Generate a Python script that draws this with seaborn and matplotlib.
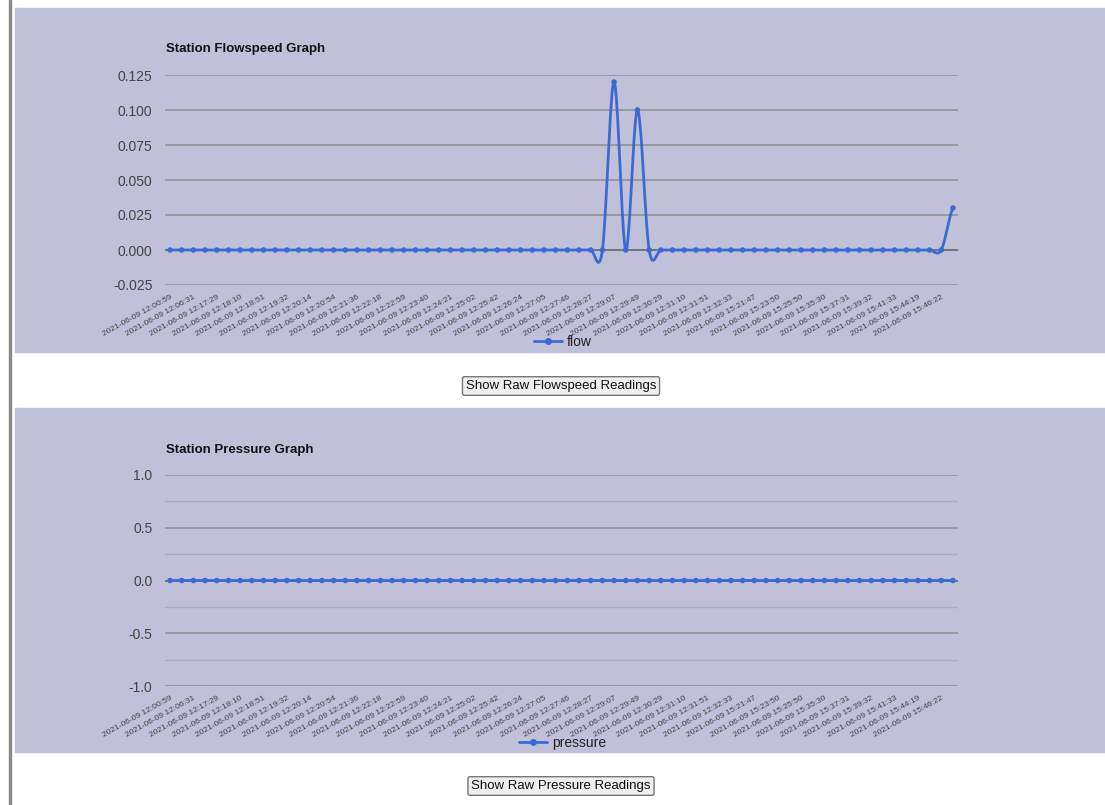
import numpy as np
import matplotlib
matplotlib.use("Agg")
import matplotlib.pyplot as plt
import seaborn as sns
from matplotlib.lines import Line2D
from matplotlib.patches import Rectangle

# readings (68 samples), labels shown on every 2nd sample
flow = [0.0] * 68
flow[38] = 0.12
flow[40] = 0.10
flow[67] = 0.03
pressure = [0.0] * 68

tick_labels = [
    "2021-06-09 12:00:59", "2021-06-09 12:06:31", "2021-06-09 12:17:29", "2021-06-09 12:18:10",
    "2021-06-09 12:18:51", "2021-06-09 12:19:32", "2021-06-09 12:20:14", "2021-06-09 12:20:54",
    "2021-06-09 12:21:36", "2021-06-09 12:22:18", "2021-06-09 12:22:59", "2021-06-09 12:23:40",
    "2021-06-09 12:24:21", "2021-06-09 12:25:02", "2021-06-09 12:25:42", "2021-06-09 12:26:24",
    "2021-06-09 12:27:05", "2021-06-09 12:27:46", "2021-06-09 12:28:27", "2021-06-09 12:29:07",
    "2021-06-09 12:29:49", "2021-06-09 12:30:29", "2021-06-09 12:31:10", "2021-06-09 12:31:51",
    "2021-06-09 12:32:33", "2021-06-09 15:21:47", "2021-06-09 15:23:50", "2021-06-09 15:25:50",
    "2021-06-09 15:35:30", "2021-06-09 15:37:31", "2021-06-09 15:39:32", "2021-06-09 15:41:33",
    "2021-06-09 15:44:19", "2021-06-09 15:46:22",
]

sns.set_style("white")
plt.rcParams['font.family'] = ['Liberation Sans', 'DejaVu Sans']

W, H = 1105, 805
BG = '#c0c0d8'
BLUE = '#3a6bd4'


def catmull(y, n=20):
    # smooth curve through the points (like curveType 'function')
    y = np.asarray(y, dtype=float)
    p = np.concatenate([[y[0]], y, [y[-1]]])
    xs, ys = [], []
    t = np.linspace(0, 1, n, endpoint=False)
    for i in range(len(y) - 1):
        p0, p1, p2, p3 = p[i], p[i + 1], p[i + 2], p[i + 3]
        m1 = (p2 - p0) / 2
        m2 = (p3 - p1) / 2
        h00 = 2 * t**3 - 3 * t**2 + 1
        h10 = t**3 - 2 * t**2 + t
        h01 = -2 * t**3 + 3 * t**2
        h11 = t**3 - t**2
        xs.append(i + t)
        ys.append(h00 * p1 + h10 * m1 + h01 * p2 + h11 * m2)
    xs.append([len(y) - 1])
    ys.append([y[-1]])
    return np.concatenate(xs), np.concatenate(ys)


def px_axes(fig, left, top, right, bottom):
    ax = fig.add_axes([left / W, 1 - bottom / H, (right - left) / W, (bottom - top) / H])
    ax.set_zorder(5)
    return ax


fig = plt.figure(figsize=(W / 100, H / 100), dpi=100)
fig.patch.set_facecolor('white')

# page decorations
fig.patches.append(Rectangle((9 / W, 0), 2 / W, 1, transform=fig.transFigure, color='#8a8a8a', zorder=-2))
for top, bot in [(8, 352), (408, 752)]:
    fig.patches.append(Rectangle((15 / W, 1 - bot / H), (W - 15) / W, (bot - top) / H,
                                 transform=fig.transFigure, color=BG, zorder=-2))


def draw_chart(ax, values, name, title, yticks, ylim, minor, fmt, title_y, legend_y):
    ax.set_facecolor(BG)
    for s in ax.spines.values():
        s.set_visible(False)
    idx = np.arange(len(values))
    for v in minor:
        ax.axhline(v, color='#a9a9c0', lw=1, zorder=1)
    for v in yticks:
        ax.axhline(v, color='#5f5f5f' if v == 0 else '#8e8e8e', lw=1.1, zorder=1)
    xs, ys = catmull(values)
    sns.lineplot(x=xs, y=ys, ax=ax, color=BLUE, lw=2, zorder=3, estimator=None, sort=False)
    sns.scatterplot(x=idx, y=values, ax=ax, color=BLUE, s=16, edgecolor='none', zorder=4)
    ax.set_xlim(-0.43, len(values) - 1 + 0.43)
    ax.set_ylim(*ylim)
    ax.set_yticks(yticks)
    ax.set_yticklabels([fmt.format(v) for v in yticks], fontsize=10, color='#444444')
    ax.tick_params(axis='y', length=0, pad=9)
    ax.set_xticks(idx[::2])
    ax.set_xticklabels(tick_labels, rotation=29, ha='right', rotation_mode='anchor',
                       fontsize=6, color='#444444')
    ax.tick_params(axis='x', length=0, pad=6)
    ax.set_xlabel('')
    ax.set_ylabel('')
    fig.text(166 / W, 1 - (title_y + 1) / H, title, fontsize=9.5, fontweight='bold',
             color='#111111', va='center', ha='left')
    h = Line2D([], [], color=BLUE, lw=2, marker='o', markersize=4)
    fig.legend(handles=[h], labels=[name], loc='center', frameon=False,
               bbox_to_anchor=(563 / W, 1 - legend_y / H), fontsize=10,
               handlelength=2.0, handletextpad=0.4, labelcolor='#222222')


ax1 = px_axes(fig, 165, 75, 958, 285)
draw_chart(ax1, flow, 'flow', 'Station Flowspeed Graph',
           [-0.025, 0.0, 0.025, 0.05, 0.075, 0.1, 0.125], (-0.025, 0.125), [],
           '{:.3f}', 48, 342)

ax2 = px_axes(fig, 165, 475, 958, 686)
draw_chart(ax2, pressure, 'pressure', 'Station Pressure Graph',
           [-1.0, -0.5, 0.0, 0.5, 1.0], (-1.0, 1.0), [-0.75, -0.25, 0.25, 0.75],
           '{:.1f}', 449, 743)

# buttons
for text, y in [("Show Raw Flowspeed Readings", 386), ("Show Raw Pressure Readings", 786)]:
    fig.text(561 / W, 1 - y / H, text, fontsize=9.5, ha='center', va='center', color='#111111',
             bbox=dict(boxstyle='round,pad=0.25,rounding_size=0.15', fc='#efefef', ec='#767676', lw=1))

plt.savefig("out.png", dpi=100)
